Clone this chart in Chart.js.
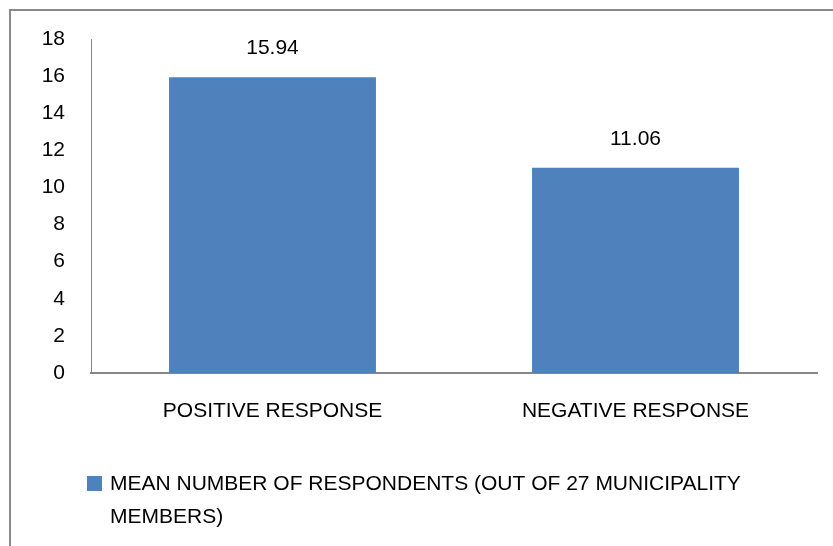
<!DOCTYPE html>
<html>
<head>
<meta charset="utf-8">
<script src="https://cdn.jsdelivr.net/npm/chart.js@4.4.0/dist/chart.umd.min.js"></script>
<style>
  html, body { margin: 0; padding: 0; background: #fff; }
  #wrap { position: relative; width: 833px; height: 546px; overflow: hidden; }
  #frame { position: absolute; left: 9px; top: 9px; width: 900px; height: 600px;
           border-left: 2px solid #8a8a8a; border-top: 2px solid #8a8a8a; }
  canvas { position: absolute; left: 0; top: 0; }
</style>
</head>
<body>
<div id="wrap">
  <div id="frame"></div>
  <canvas id="chart" width="833" height="546"></canvas>
</div>
<script>
// data
const categories = ['POSITIVE RESPONSE', 'NEGATIVE RESPONSE'];
const meanRespondents = [15.94, 11.06];
const seriesLabel = 'MEAN NUMBER OF RESPONDENTS (OUT OF 27 MUNICIPALITY MEMBERS)';
const yTicks = [0, 2, 4, 6, 8, 10, 12, 14, 16, 18];

const FONT = '"Liberation Sans", Arial, sans-serif';
const FONT_SIZE = 21;
const BAR_COLOR = '#4F81BD';

// value labels above each bar
const valueLabels = {
  id: 'valueLabels',
  afterDatasetsDraw(chart) {
    const ctx = chart.ctx;
    ctx.save();
    ctx.font = FONT_SIZE + 'px ' + FONT;
    ctx.fillStyle = '#000';
    ctx.textAlign = 'center';
    ctx.textBaseline = 'middle';
    chart.getDatasetMeta(0).data.forEach((bar, i) => {
      ctx.fillText(meanRespondents[i].toFixed(2), bar.x, bar.y - 29);
    });
    ctx.restore();
  }
};

// legend with wrapped text, like the original
const wrapLegend = {
  id: 'wrapLegend',
  afterDraw(chart) {
    const ctx = chart.ctx;
    ctx.save();
    ctx.font = FONT_SIZE + 'px ' + FONT;
    const words = seriesLabel.split(' ');
    const lines = [];
    let line = '';
    words.forEach(w => {
      const test = line ? line + ' ' + w : w;
      if (ctx.measureText(test).width > 700 && line) { lines.push(line); line = w; }
      else line = test;
    });
    lines.push(line);
    ctx.fillStyle = BAR_COLOR;
    ctx.fillRect(87, 476, 15, 15);
    ctx.fillStyle = '#000';
    ctx.textBaseline = 'middle';
    lines.forEach((l, i) => ctx.fillText(l, 110, 484 + i * 33));
    ctx.restore();
  }
};

new Chart(document.getElementById('chart'), {
  type: 'bar',
  data: {
    labels: categories,
    datasets: [{
      label: seriesLabel,
      data: meanRespondents,
      backgroundColor: BAR_COLOR,
      barPercentage: 0.57,
      categoryPercentage: 1
    }]
  },
  options: {
    responsive: false,
    animation: false,
    layout: { padding: { left: 0, right: 16, top: 39, bottom: 0 } },
    plugins: { legend: { display: false }, tooltip: { enabled: false } },
    scales: {
      x: {
        grid: { display: false, drawTicks: false },
        border: { color: '#868686', width: 2 },
        ticks: { color: '#000', font: { family: FONT, size: FONT_SIZE }, padding: 26, maxRotation: 0 },
        afterFit(scale) { scale.height = 173; }
      },
      y: {
        min: 0, max: 18,
        grid: { display: false, drawTicks: false },
        border: { color: '#868686', width: 1 },
        afterBuildTicks(scale) { scale.ticks = yTicks.map(v => ({ value: v })); },
        ticks: { color: '#000', font: { family: FONT, size: FONT_SIZE }, padding: 26 },
        afterFit(scale) { scale.width = 91; }
      }
    }
  },
  plugins: [valueLabels, wrapLegend]
});
</script>
</body>
</html>
